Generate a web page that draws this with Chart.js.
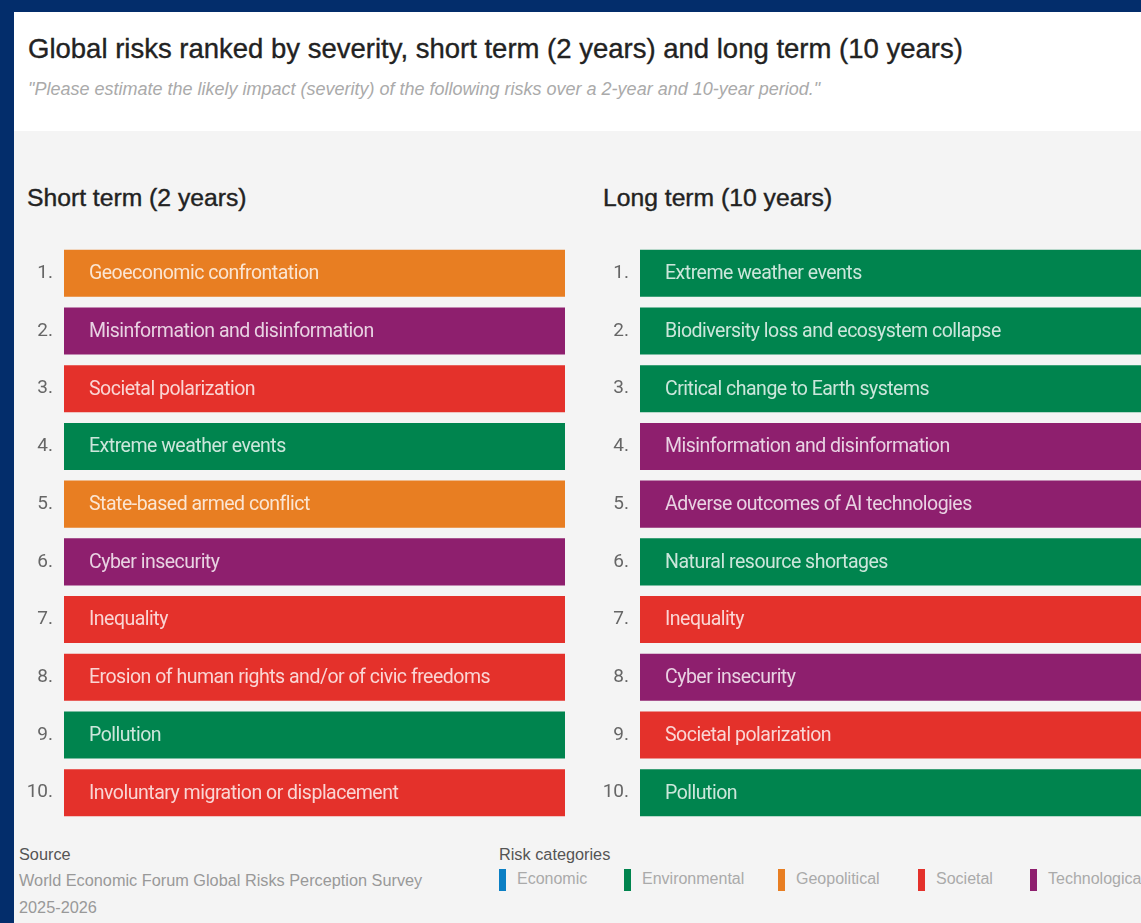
<!DOCTYPE html>
<html>
<head>
<meta charset="utf-8">
<script src="https://cdn.jsdelivr.net/npm/chart.js@4"></script>
<style>
  html, body { margin: 0; padding: 0; }
  body { width: 1141px; height: 923px; background: #032d6b; overflow: hidden; position: relative; font-family: "Liberation Sans", Arial, sans-serif; }
  #panel { position: absolute; left: 14px; top: 12px; width: 1200px; height: 960px; background: #f4f4f4; }
  #head { position: absolute; left: 0; top: 0; width: 100%; height: 119px; background: #fff; }
  #title { position: absolute; left: 14px; top: 21px; font-size: 27.5px; color: #222; -webkit-text-stroke: 0.35px #222; white-space: nowrap; }
  #sub { position: absolute; left: 14px; top: 67px; font-size: 18px; font-style: italic; color: #aaa; white-space: nowrap; }
  .sec { position: absolute; top: 172px; font-size: 24.7px; color: #222; -webkit-text-stroke: 0.4px #222; white-space: nowrap; }
  canvas { position: absolute; }
  .foot { position: absolute; font-size: 16.3px; color: #999; white-space: nowrap; }
  .foot.h { color: #555; }
  #legend { position: absolute; left: 499px; top: 869px; white-space: nowrap; }
  .item { position: absolute; top: 1px; font-size: 16px; color: #aaa; }
  .sw { position: absolute; top: 0; width: 7px; height: 22px; }
</style>
</head>
<body>
<div id="panel">
  <div id="head">
    <div id="title">Global risks ranked by severity, short term (2 years) and long term (10 years)</div>
    <div id="sub">"Please estimate the likely impact (severity) of the following risks over a 2-year and 10-year period."</div>
  </div>
  <div class="sec" style="left:13px">Short term (2 years)</div>
  <div class="sec" style="left:589px">Long term (10 years)</div>
  <div class="foot h" style="left:5px; top:833px">Source</div>
  <div class="foot" style="left:5px; top:859px">World Economic Forum Global Risks Perception Survey</div>
  <div class="foot" style="left:5px; top:886px">2025-2026</div>
  <div class="foot h" style="left:485px; top:833px">Risk categories</div>
</div>
<div id="legend"></div>
<canvas id="shortChart" style="left:14px; top:222px" width="551" height="622"></canvas>
<canvas id="longChart" style="left:590px; top:222px" width="560" height="622"></canvas>
<script>
// rank tick labels
var rankLabels = ["1.", "2.", "3.", "4.", "5.", "6.", "7.", "8.", "9.", "10."];

var shortRisks = [
  "Geoeconomic confrontation",
  "Misinformation and disinformation",
  "Societal polarization",
  "Extreme weather events",
  "State-based armed conflict",
  "Cyber insecurity",
  "Inequality",
  "Erosion of human rights and/or of civic freedoms",
  "Pollution",
  "Involuntary migration or displacement"
];
var shortCats = ["Geopolitical", "Technological", "Societal", "Environmental", "Geopolitical",
  "Technological", "Societal", "Societal", "Environmental", "Societal"];

var longRisks = [
  "Extreme weather events",
  "Biodiversity loss and ecosystem collapse",
  "Critical change to Earth systems",
  "Misinformation and disinformation",
  "Adverse outcomes of AI technologies",
  "Natural resource shortages",
  "Inequality",
  "Cyber insecurity",
  "Societal polarization",
  "Pollution"
];
var longCats = ["Environmental", "Environmental", "Environmental", "Technological", "Technological",
  "Environmental", "Societal", "Technological", "Societal", "Environmental"];

// every bar spans the full row
var barValues = [1, 1, 1, 1, 1, 1, 1, 1, 1, 1];

var categories = ["Economic", "Environmental", "Geopolitical", "Societal", "Technological"];
var catColors = ["#0b7fc4", "#00844e", "#e87e22", "#e4312b", "#8e1f6e"];

function colorOf(cat) {
  return catColors[categories.indexOf(cat)];
}

// legend
var legendX = [0, 125, 279, 419, 531];
var legend = document.getElementById("legend");
categories.forEach(function (c, i) {
  var sw = document.createElement("div");
  sw.className = "sw";
  sw.style.left = legendX[i] + "px";
  sw.style.background = catColors[i];
  legend.appendChild(sw);
  var t = document.createElement("div");
  t.className = "item";
  t.style.left = (legendX[i] + 18) + "px";
  t.textContent = c;
  legend.appendChild(t);
});

// risk names inside the bars
var barText = {
  id: "barText",
  afterDatasetsDraw: function (chart, args, opts) {
    var ctx = chart.ctx;
    var meta = chart.getDatasetMeta(0);
    ctx.save();
    ctx.font = "19.5px Roboto";
    ctx.letterSpacing = "-0.5px";
    ctx.fillStyle = "rgba(255,255,255,0.8)";
    ctx.textBaseline = "middle";
    meta.data.forEach(function (bar, i) {
      ctx.fillText(opts.names[i], bar.base + 25, bar.y + 1);
    });
    ctx.restore();
  }
};

function makeChart(id, names, cats) {
  return new Chart(document.getElementById(id), {
    type: "bar",
    data: {
      labels: rankLabels,
      datasets: [{
        data: barValues,
        backgroundColor: cats.map(colorOf),
        barPercentage: 0.815,
        categoryPercentage: 1
      }]
    },
    options: {
      indexAxis: "y",
      responsive: false,
      animation: false,
      layout: { padding: 0 },
      plugins: {
        legend: { display: false },
        tooltip: { enabled: false },
        barText: { names: names }
      },
      scales: {
        x: { display: false, min: 0, max: 1 },
        y: {
          grid: { display: false, drawTicks: false },
          border: { display: false },
          ticks: { color: "#666", font: { family: "Roboto", size: 19 }, padding: 11 },
          afterFit: function (s) { s.width = 50; }
        }
      }
    },
    plugins: [barText]
  });
}

makeChart("shortChart", shortRisks, shortCats);
makeChart("longChart", longRisks, longCats);
</script>
</body>
</html>
